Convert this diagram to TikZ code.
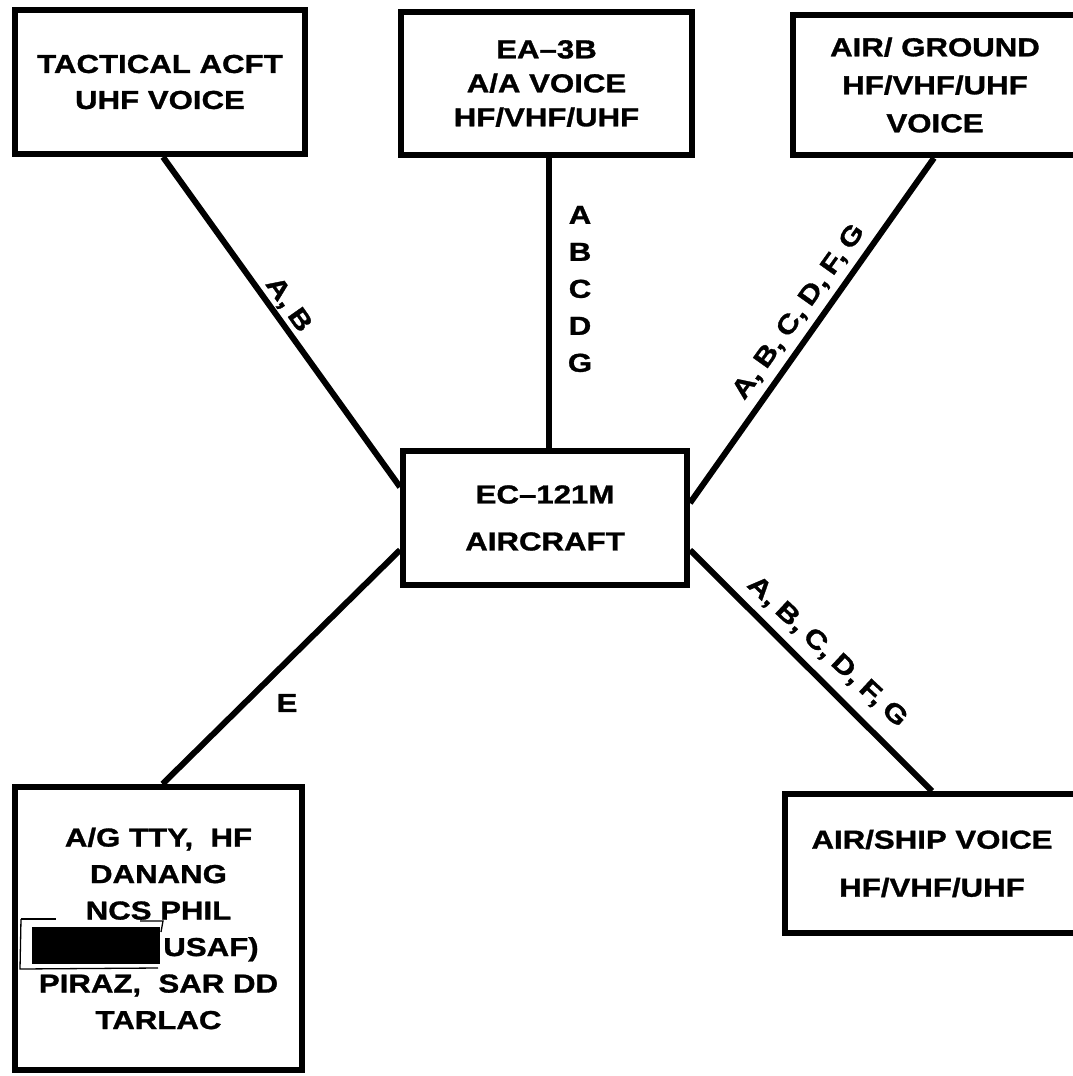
\documentclass[tikz,border=0pt]{standalone}
\usepackage{fontspec}
\setmainfont[FakeStretch=1.2, BoldFeatures={FakeBold=1.2}]{Liberation Sans}
\usetikzlibrary{calc}
\newcommand{\lsp}{,\hspace{7pt}}
\tikzset{
  box/.style={draw, rectangle, line width=6pt, align=center, inner sep=0pt},
  conn/.style={line width=6pt},
  lab/.style={inner sep=0pt, font=\bfseries\fontsize{26}{30}\selectfont},
  redline/.style={line width=1.3pt}
}
\begin{document}
\begin{tikzpicture}[x=1pt,y=-1pt]
\useasboundingbox (0,0) rectangle (1072,1076);
% boxes
\node[box, minimum width=290pt, minimum height=144pt, font=\bfseries\fontsize{26}{36}\selectfont] (tac) at (160,82) {TACTICAL ACFT\\UHF VOICE};
\node[box, minimum width=291pt, minimum height=143pt, font=\bfseries\fontsize{26}{34}\selectfont] (ea) at (546.5,83.5) {EA--3B\\A/A VOICE\\HF/VHF/UHF};
\node[box, minimum width=284pt, minimum height=140pt, font=\bfseries\fontsize{26}{38}\selectfont] (ag) at (935,85) {AIR/ GROUND\\HF/VHF/UHF\\VOICE};
\node[box, minimum width=284pt, minimum height=134pt, font=\bfseries\fontsize{26}{47}\selectfont] (ec) at (545,518) {EC--121M\\AIRCRAFT};
\node[box, minimum width=287pt, minimum height=283pt, font=\bfseries\fontsize{26}{36.5}\selectfont] (tty) at (158.5,928.5)
  {A/G TTY,\ \ HF\\DANANG\\NCS PHIL\\\rule[-8pt]{128pt}{37pt}\hspace{3pt}USAF)\makebox[26pt]{}\\PIRAZ,\ \ SAR DD\\TARLAC};
\node[box, minimum width=294pt, minimum height=139pt, font=\bfseries\fontsize{26}{48}\selectfont] (ship) at (932,863.5) {AIR/SHIP VOICE\\HF/VHF/UHF};
% connectors
\draw[conn] ($(tac.south)+(3,0)$) -- ($(ec.west)+(0,-31)$);
\draw[conn] ($(ea.south)+(2,0)$) -- ($(ea.south |- ec.north)+(2,0)$);
\draw[conn] ($(ec.east)+(0,-15)$) -- ($(ag.south)+(-1,0)$);
\draw[conn] ($(ec.east)+(0,32)$) -- (ship.north);
\draw[conn] ($(ec.west)+(0,32)$) -- ($(tty.north)+(4,0)$);
% connector labels
\node[lab, rotate=-55] (labtac) at (288,305) {A\lsp B};
\node[lab, align=center, font=\bfseries\fontsize{26}{37}\selectfont] (labea) at (580,289) {A\\B\\C\\D\\G};
\node[lab, rotate=54.5] (labag) at (799,312) {A\lsp B\lsp C\lsp D\lsp F\lsp G};
\node[lab, rotate=-43] (labship) at (827,652) {A\lsp B\lsp C\lsp D\lsp F\lsp G};
\node[lab] (labtty) at (287,703) {E};
% redaction bracket marks
\draw[redline] (21,919) -- (56,919);
\draw[redline] (21,919) -- (20,969) -- (158,968);
\draw[redline] (140,921) -- (163,921) -- (161,932);
\end{tikzpicture}
\end{document}
